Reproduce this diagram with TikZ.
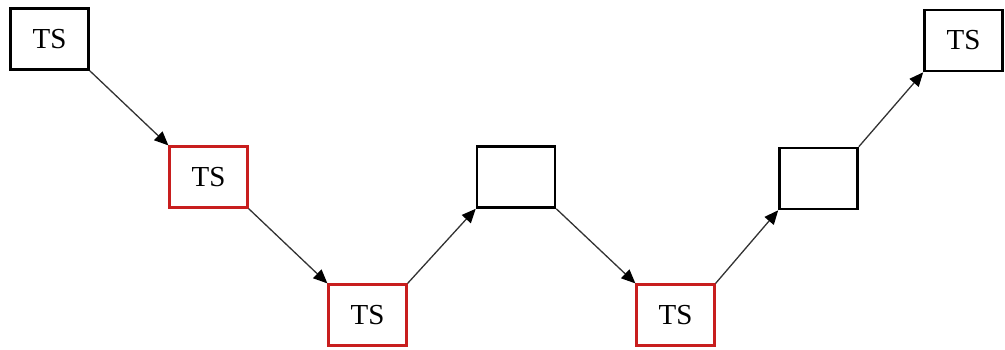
\documentclass[tikz,border=0pt]{standalone}
\usepackage{fontspec}
\setmainfont{Liberation Serif}
\usetikzlibrary{arrows.meta}
\definecolor{boxred}{RGB}{200,30,30}
\definecolor{arrowgray}{RGB}{50,50,50}
\begin{document}
\begin{tikzpicture}[x=1pt,y=-1pt,
  tsbox/.style={draw=black,line width=2.6pt,minimum width=78pt,minimum height=61pt,inner sep=0pt,font=\fontsize{29}{32}\selectfont},
  redbox/.style={tsbox,draw=boxred,line width=2.2pt},
  conn/.style={draw=arrowgray,line width=1.3pt,-{Triangle[length=14pt,width=12pt,fill=black,color=black]}}]
\useasboundingbox (0,0) rectangle (1005,350);
\node[tsbox] (b1) at (49.5,39) {TS};
\node[redbox] (b2) at (208.5,177) {TS};
\node[redbox] (b3) at (367.5,315) {TS};
\node[tsbox] (b4) at (516,177) {};
\node[redbox] (b5) at (675.5,315) {TS};
\node[tsbox] (b6) at (818.5,178.5) {};
\node[tsbox] (b7) at (963.5,40.5) {TS};
\draw[conn] (b1.south east) -- (b2.north west);
\draw[conn] (b2.south east) -- (b3.north west);
\draw[conn] (b3.north east) -- (b4.south west);
\draw[conn] (b4.south east) -- (b5.north west);
\draw[conn] (b5.north east) -- (b6.south west);
\draw[conn] (b6.north east) -- (b7.south west);
\end{tikzpicture}
\end{document}
